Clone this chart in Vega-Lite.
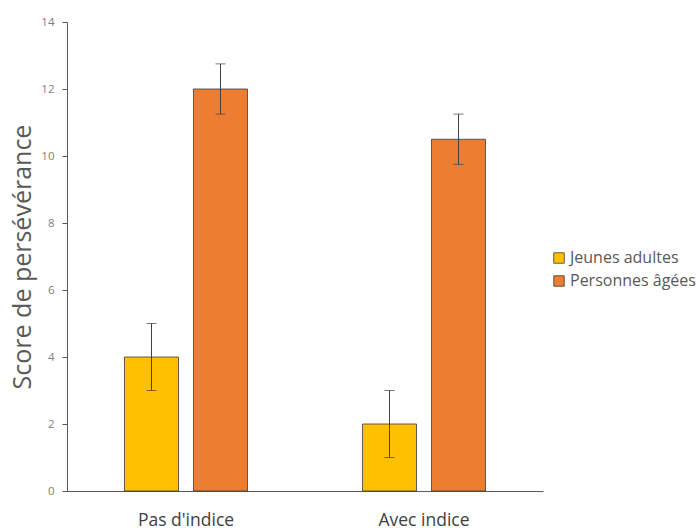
{
  "$schema": "https://vega.github.io/schema/vega-lite/v6.json",
  "width": 476,
  "height": 469,
  "autosize": {"type": "none"},
  "padding": {"left": 67, "top": 22, "right": 157, "bottom": 41},
  "background": "white",
  "config": {
    "view": {"stroke": null},
    "font": "Open Sans"
  },
  "data": {
    "values": [
      {"cond": "Pas d'indice", "groupe": "Jeunes adultes", "score": 4, "lo": 3, "hi": 5},
      {"cond": "Pas d'indice", "groupe": "Personnes âgées", "score": 12, "lo": 11.25, "hi": 12.75},
      {"cond": "Avec indice", "groupe": "Jeunes adultes", "score": 2, "lo": 1, "hi": 3},
      {"cond": "Avec indice", "groupe": "Personnes âgées", "score": 10.5, "lo": 9.75, "hi": 11.25}
    ]
  },
  "encoding": {
    "x": {
      "field": "cond", "type": "nominal", "sort": ["Pas d'indice", "Avec indice"],
      "scale": {"paddingInner": 0, "paddingOuter": 0},
      "axis": {"title": null, "labelAngle": 0, "ticks": false, "domainColor": "#595959", "labelPadding": 20, "labelFontSize": 17.5, "labelColor": "#404040", "labelFont": "Open Sans"}
    },
    "xOffset": {
      "field": "groupe", "type": "nominal",
      "scale": {"paddingInner": 0.217, "paddingOuter": 0.833}
    }
  },
  "layer": [
    {
      "mark": {"type": "bar", "stroke": "#3a3a3a", "strokeWidth": 0.8},
      "encoding": {
        "y": {
          "field": "score", "type": "quantitative",
          "scale": {"domain": [0, 14]},
          "axis": {"values": [0, 2, 4, 6, 8, 10, 12, 14], "grid": false, "title": "Score de persévérance", "titleFontSize": 25, "titleFontWeight": "normal", "titleColor": "#595959", "titlePadding": 5, "labelFontSize": 11.5, "labelColor": "#7f7f7f", "labelPadding": 8, "tickSize": 5, "tickColor": "#595959", "domainColor": "#595959"}
        },
        "color": {
          "field": "groupe", "type": "nominal",
          "scale": {"domain": ["Jeunes adultes", "Personnes âgées"], "range": ["#FFC000", "#ED7D31"]},
          "legend": {"title": null, "orient": "none", "legendX": 484, "legendY": 228, "symbolType": "square", "symbolSize": 110, "symbolStrokeColor": "#3a3a3a", "symbolStrokeWidth": 0.8, "labelFontSize": 16, "labelColor": "#595959", "rowPadding": 7, "labelOffset": 3}
        }
      }
    },
    {
      "mark": {"type": "rule", "color": "#404040", "strokeWidth": 1},
      "encoding": {
        "y": {"field": "lo", "type": "quantitative"},
        "y2": {"field": "hi"}
      }
    },
    {
      "mark": {"type": "tick", "color": "#404040", "size": 10, "thickness": 1},
      "encoding": {
        "y": {"field": "lo", "type": "quantitative"}
      }
    },
    {
      "mark": {"type": "tick", "color": "#404040", "size": 10, "thickness": 1},
      "encoding": {
        "y": {"field": "hi", "type": "quantitative"}
      }
    }
  ]
}
